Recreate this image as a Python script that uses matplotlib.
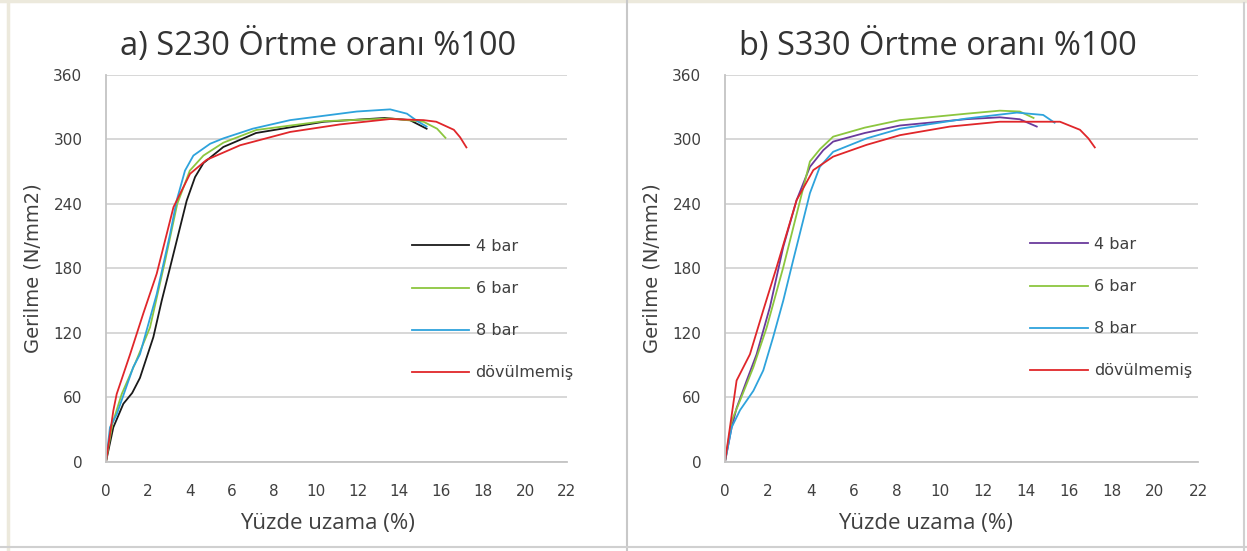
import matplotlib
matplotlib.use("Agg")
import matplotlib.pyplot as plt
from matplotlib.lines import Line2D

# S230 - strain (%) / stress (N/mm2)
s230_4bar_x = [0, 0.35, 0.83, 1.25, 1.62, 2.26, 2.66, 3.06, 3.85, 4.25, 4.65, 5.6, 7.16, 10.4, 13.3, 14.5, 15.3]
s230_4bar_y = [0, 32, 54, 64, 78, 116, 150, 181, 243, 265, 278, 293, 306, 316.5, 320, 318, 310]
s230_6bar_x = [0, 0.3, 0.75, 1.4, 2.1, 2.82, 3.4, 4.0, 4.65, 5.6, 7.17, 10.4, 13.56, 15.15, 15.8, 16.2]
s230_6bar_y = [0, 35, 63, 92, 125, 187, 240, 271, 285, 297, 308.8, 317, 319.5, 316.5, 310, 301.5]
s230_8bar_x = [0, 0.19, 0.51, 1.3, 1.62, 2.42, 3.06, 3.37, 3.77, 4.17, 4.97, 5.6, 7.0, 8.79, 11.97, 13.56, 14.36, 14.9, 15.3]
s230_8bar_y = [0, 32, 44, 88, 100, 156, 212, 243, 271, 285, 296, 301, 310, 318, 326, 328, 324, 316.5, 312]
s230_dov_x = [0, 0.35, 0.51, 1.15, 1.78, 2.42, 3.22, 4.01, 4.8, 6.4, 8.79, 11.17, 13.56, 15.15, 15.76, 16.6, 16.9, 17.2]
s230_dov_y = [0, 47.6, 63, 100, 138, 175, 237, 268, 281, 294.6, 307, 314, 319, 318, 316.5, 309, 302, 292.6]

# S330
s330_4bar_x = [0, 0.31, 0.54, 1.01, 1.47, 2.09, 2.71, 3.33, 3.95, 4.57, 5.03, 6.5, 8.14, 11.24, 12.78, 13.71, 14.5]
s330_4bar_y = [0, 32, 50, 75.6, 100, 144, 200, 243.5, 274.5, 290, 298, 306, 313, 318.9, 320.6, 318.8, 312]
s330_6bar_x = [0, 0.31, 0.7, 1.32, 1.94, 2.71, 3.49, 3.95, 4.42, 5.03, 6.5, 8.14, 11.24, 12.78, 13.71, 14.35]
s330_6bar_y = [0, 38, 57, 88, 125, 181, 243, 279.5, 291, 302.6, 311, 318, 324, 326.8, 326, 320]
s330_8bar_x = [0, 0.31, 0.7, 1.32, 1.78, 2.24, 2.71, 3.17, 3.64, 3.95, 4.41, 5.03, 6.59, 8.14, 11.24, 13.57, 14.8, 15.33]
s330_8bar_y = [0, 32, 48, 66, 85, 116, 150, 187.5, 225, 250, 274.5, 288.5, 301, 310, 319.5, 325, 322.8, 315.6]
s330_dov_x = [0, 0.23, 0.54, 1.16, 1.78, 2.4, 3.33, 4.11, 5.03, 6.59, 8.14, 10.46, 12.78, 15.58, 16.51, 16.9, 17.2]
s330_dov_y = [0, 32, 75.6, 100, 141, 181, 243.5, 271.5, 284, 295, 304, 312, 316.5, 316.5, 309, 301, 292.6]

labels = ["4 bar", "6 bar", "8 bar", "dövülmemiş"]
x_ticks = list(range(0, 23, 2))
y_ticks = list(range(0, 361, 60))

panels = [
    ("a) S230 Örtme oranı %100",
     [(s230_4bar_x, s230_4bar_y), (s230_6bar_x, s230_6bar_y), (s230_8bar_x, s230_8bar_y), (s230_dov_x, s230_dov_y)],
     ["#1a1a1a", "#8cc63f", "#2ea3dc", "#e0262a"]),
    ("b) S330 Örtme oranı %100",
     [(s330_4bar_x, s330_4bar_y), (s330_6bar_x, s330_6bar_y), (s330_8bar_x, s330_8bar_y), (s330_dov_x, s330_dov_y)],
     ["#6a3a9c", "#8cc63f", "#2ea3dc", "#e0262a"]),
]

W, H = 1247, 551
fig = plt.figure(figsize=(W / 100, H / 100), dpi=100)
fig.patch.set_facecolor("white")

def px(x0, y0, x1, y1):
    return [x0 / W, 1 - y1 / H, (x1 - x0) / W, (y1 - y0) / H]

# panel frames
for xs, ys, c, lw in [([0, 1], [1 - 1 / H, 1 - 1 / H], "#ece9dc", 2.5),
                      ([8 / W, 8 / W], [0, 1], "#ece9dc", 2.5),
                      ([627 / W, 627 / W], [0, 1], "#c8c8c8", 1.5),
                      ([0, 1], [1 - 547 / H, 1 - 547 / H], "#d0d0d0", 1.5),
                      ([1244 / W, 1244 / W], [0, 1 - 3 / H], "#d0d0d0", 1.5)]:
    fig.add_artist(Line2D(xs, ys, color=c, lw=lw, transform=fig.transFigure))

axes_px = [(106, 75, 567, 461.7), (725, 75, 1198, 461.7)]
legend_pos = [(0.663, 0.576), (0.645, 0.581)]
title_x = [318, 938]
xlabel_x = [327, 925]

for (title, curves, colors), box, lpos, tx, lx in zip(panels, axes_px, legend_pos, title_x, xlabel_x):
    ax = fig.add_axes(px(*box))
    for (x, y), c, lab in zip(curves, colors, labels):
        ax.plot(x, y, color=c, lw=1.3, label=lab, solid_joinstyle="round")
    ax.set_xlim(0, 22)
    ax.set_ylim(0, 360)
    ax.set_xticks(x_ticks)
    ax.set_yticks(y_ticks)
    ax.yaxis.grid(True, color="#d4d4d4", lw=1.3)
    ax.set_axisbelow(True)
    for s in ["top", "right"]:
        ax.spines[s].set_visible(False)
    for s in ["left", "bottom"]:
        ax.spines[s].set_color("#c4c4c4")
        ax.spines[s].set_linewidth(1.3)
    ax.tick_params(length=0, labelsize=11, colors="#404040")
    ax.tick_params(axis="y", pad=17)
    ax.tick_params(axis="x", pad=16)
    ax.set_ylabel("Gerilme (N/mm2)", fontsize=14, color="#404040", labelpad=8)
    fig.text(lx / W, 1 - 524 / H, "Yüzde uzama (%)", ha="center", va="center",
             fontsize=16, color="#404040", family=["Open Sans", "DejaVu Sans"])
    fig.text(tx / W, 1 - 45 / H, title, ha="center", va="center", fontsize=23.5,
             color="#333333", family=["Open Sans", "DejaVu Sans"])
    ax.legend(loc="upper left", bbox_to_anchor=lpos, frameon=False, fontsize=11.5,
              handlelength=3.6, handletextpad=0.4, labelspacing=1.7, borderpad=0,
              borderaxespad=0, labelcolor="#404040")

fig.savefig("out.png", dpi=100)
